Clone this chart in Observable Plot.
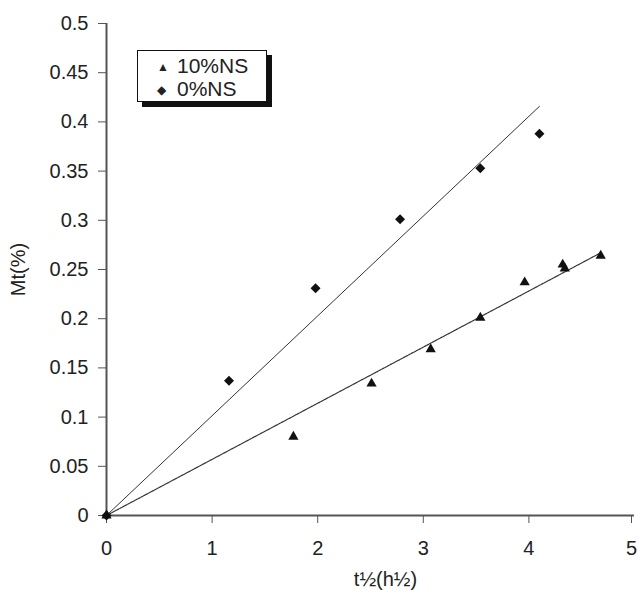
<!DOCTYPE html>
<html>
<head>
<meta charset="utf-8">
<script src="https://cdn.jsdelivr.net/npm/d3@7"></script>
<script src="https://cdn.jsdelivr.net/npm/@observablehq/plot@0.6"></script>
<style>
  body { margin: 0; background: #fff; }
  #wrap { position: relative; width: 638px; height: 590px; font-family: "Liberation Sans", Arial, sans-serif; }
  #legend {
    position: absolute; left: 137px; top: 50px; width: 130px; height: 52px;
    border: 1.5px solid #111; background: #fff; box-shadow: 5px 5px 0 #111;
    font-size: 21px; color: #222; line-height: 21px; padding-top: 4px; box-sizing: border-box;
  }
  #legend div { padding-left: 19px; white-space: nowrap; }
  #legend span.s { display: inline-block; width: 20px; font-size: 12px; vertical-align: 2px; }
</style>
</head>
<body>
<div id="wrap"></div>
<script>
// 10%NS series (triangles)
const x10 = [0, 1.77, 2.51, 3.07, 3.54, 3.96, 4.32, 4.34, 4.68];
const y10 = [0, 0.080, 0.134, 0.169, 0.201, 0.237, 0.255, 0.251, 0.264];
// 0%NS series (diamonds)
const x0 = [0, 1.16, 1.98, 2.78, 3.54, 4.10];
const y0 = [0, 0.137, 0.231, 0.301, 0.353, 0.388];
// series names, axis titles and tick labels
const seriesNames = ["10%NS", "0%NS"];
const xTitle = "t½(h½)";
const yTitle = "Mt(%)";
const xTicks = [0, 1, 2, 3, 4, 5];
const yTicks = [0, 0.05, 0.1, 0.15, 0.2, 0.25, 0.3, 0.35, 0.4, 0.45, 0.5];

const pts10 = x10.map((x, i) => ({x, y: y10[i]}));
const pts0 = x0.map((x, i) => ({x, y: y0[i]}));

// least-squares trend line through origin
function trend(xs, ys) {
  const k = d3.sum(xs, (x, i) => x * ys[i]) / d3.sum(xs, x => x * x);
  const xm = d3.max(xs);
  return [{x: 0, y: 0}, {x: xm, y: k * xm}];
}

const axisColor = "#555";
const chart = Plot.plot({
  width: 638,
  height: 590,
  marginLeft: 106,
  marginRight: 4,
  marginTop: 23,
  marginBottom: 75,
  x: {domain: [0, 5]},
  y: {domain: [0, 0.5]},
  style: {fontFamily: "'Liberation Sans', Arial, sans-serif", fontSize: "20px", color: "#222", background: "#fff"},
  marks: [
    Plot.axisX({ticks: xTicks.slice(0, -1), tickSize: 8, tickPadding: 17, tickFormat: d => String(d), label: null, stroke: axisColor}),
    Plot.axisX({ticks: xTicks.slice(-1), tickSize: 8, tickPadding: 17, tickFormat: d => String(d), label: null, stroke: axisColor, dx: -3}),
    Plot.axisY({ticks: yTicks, tickSize: 8, tickPadding: 10, tickFormat: d => String(+d.toFixed(2)), label: yTitle, labelAnchor: "center", labelArrow: "none", labelOffset: 96, stroke: axisColor}),
    Plot.text([xTitle], {frameAnchor: "bottom", dx: 15, dy: 70, fontSize: 20, fill: "#222"}),
    Plot.ruleX([0], {stroke: axisColor, strokeWidth: 2}),
    Plot.ruleY([0], {stroke: axisColor, strokeWidth: 2}),
    Plot.line(trend(x0, y0), {x: "x", y: "y", stroke: "#333", strokeWidth: 1}),
    Plot.line(trend(x10, y10), {x: "x", y: "y", stroke: "#333", strokeWidth: 1.2, strokeDasharray: "2,1"}),
    Plot.dot(pts0, {x: "x", y: "y", symbol: "diamond2", r: 4.5, fill: "#111", stroke: null}),
    Plot.dot(pts10, {x: "x", y: "y", symbol: "triangle", r: 3.8, fill: "#111", stroke: null})
  ]
});
const wrap = document.getElementById("wrap");
wrap.appendChild(chart);
const lg = document.createElement("div");
lg.id = "legend";
lg.innerHTML = `<div><span class="s">▲</span>${seriesNames[0]}</div><div><span class="s">◆</span>${seriesNames[1]}</div>`;
wrap.appendChild(lg);
</script>
</body>
</html>
